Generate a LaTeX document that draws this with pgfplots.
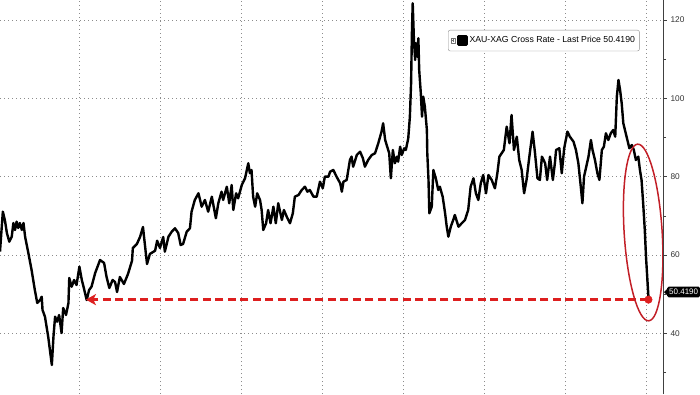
\documentclass[border=0pt]{standalone}
\usepackage{pgfplots}
\pgfplotsset{compat=1.18}
\usepackage{fontspec}
\setmainfont{Liberation Sans}
\usetikzlibrary{arrows.meta,shapes.geometric}
\definecolor{annred}{HTML}{DD1F1F}
\definecolor{ellred}{HTML}{C21F27}
\begin{document}
\begin{tikzpicture}
\useasboundingbox (0,0) rectangle (700pt,394pt);
\begin{axis}[
  at={(0,0)}, anchor=south west,
  scale only axis, width=663pt, height=394pt,
  xmin=2010.05, xmax=2026.42, ymin=24.5, ymax=125.1,
  axis line style={draw=none},
  xtick={2012,2014,...,2026}, xticklabels={},
  xtick style={draw=none},
  ytick={40,60,80,100,120}, minor ytick={30,50,70,90,110},
  ytick pos=right, yticklabel pos=right,
  tick align=outside,
  major tick length=4pt, minor tick length=3pt,
  ytick style={black!75, line width=0.6pt},
  xmajorgrids, ymajorgrids,
  major grid style={black!45, line width=0.7pt, dash pattern=on 0.8pt off 3.2pt},
  yticklabel style={font=\fontsize{8.3}{9}\selectfont, text=black!80},
  /pgf/number format/assume math mode=true,
  legend style={at={(0.6757,0.9239)}, anchor=north west, draw=black!45,
    rounded corners=2pt, font=\fontsize{8.7}{10}\selectfont,
    inner xsep=2.5pt, inner ysep=4.5pt},
  legend image code/.code={
    \draw[sharp corners, black!55, line width=0.35pt] (0pt,-2.2pt) rectangle (4.4pt,2.2pt);
    \draw[sharp corners, black!55, line width=0.35pt] (2.2pt,-1.4pt) -- (2.2pt,1.4pt) (0.8pt,0pt) -- (3.6pt,0pt);
    \fill[sharp corners, black] (7.5pt,-4pt) rectangle (15.5pt,4pt);
  },
]
\addplot[black, line width=2.4pt, line join=round] coordinates {
(2010.05,60.84) (2010.12,71.05) (2010.17,68.93) (2010.22,65.61) (2010.28,63.39)
(2010.34,64.67) (2010.38,68.16) (2010.42,66.38) (2010.46,68.50) (2010.50,66.89)
(2010.54,68.16) (2010.59,66.38) (2010.63,68.16) (2010.67,64.67) (2010.75,60.50)
(2010.83,56.16) (2010.91,51.06) (2010.97,47.74) (2011.04,48.50) (2011.08,49.34)
(2011.10,45.95) (2011.16,44.24) (2011.24,39.13) (2011.33,31.90) (2011.37,39.13)
(2011.41,44.24) (2011.46,42.96) (2011.51,44.67) (2011.57,40.08) (2011.61,46.46)
(2011.68,44.67) (2011.74,47.74) (2011.76,54.12) (2011.82,51.90) (2011.88,53.61)
(2011.94,52.33) (2012.01,57.01) (2012.07,53.61) (2012.12,51.57) (2012.19,48.50)
(2012.25,51.06) (2012.31,51.90) (2012.40,55.40) (2012.52,58.72) (2012.62,57.95)
(2012.68,54.45) (2012.75,51.57) (2012.83,53.61) (2012.89,53.10) (2012.94,50.54)
(2013.01,54.38) (2013.11,52.59) (2013.21,55.14) (2013.31,58.54) (2013.33,61.78)
(2013.43,62.80) (2013.51,64.67) (2013.58,67.14) (2013.68,57.69) (2013.75,60.25)
(2013.88,61.09) (2013.93,63.64) (2014.00,61.78) (2014.08,64.59) (2014.12,60.84)
(2014.21,64.67) (2014.29,65.94) (2014.37,66.81) (2014.45,65.61) (2014.51,62.55)
(2014.57,62.80) (2014.66,65.94) (2014.74,66.81) (2014.78,71.05) (2014.86,74.04)
(2014.95,75.75) (2015.03,72.33) (2015.11,74.04) (2015.19,71.05) (2015.28,74.88)
(2015.38,69.37) (2015.44,73.20) (2015.52,76.16) (2015.56,74.04) (2015.65,77.43)
(2015.71,73.20) (2015.77,77.87) (2015.81,71.48) (2015.88,75.75) (2015.93,74.47)
(2016.02,77.87) (2016.10,79.58) (2016.18,83.41) (2016.22,80.86) (2016.26,81.70)
(2016.30,74.88) (2016.35,72.33) (2016.40,75.75) (2016.47,74.04) (2016.51,71.48)
(2016.55,66.38) (2016.62,68.09) (2016.67,71.48) (2016.73,68.09) (2016.80,72.33)
(2016.86,68.09) (2016.92,73.20) (2017.01,68.93) (2017.06,71.48) (2017.13,69.77)
(2017.21,68.09) (2017.28,70.64) (2017.33,74.88) (2017.42,75.31) (2017.50,76.59)
(2017.58,77.43) (2017.64,76.16) (2017.70,76.59) (2017.79,74.88) (2017.87,74.88)
(2017.95,78.71) (2018.02,77.02) (2018.07,79.99) (2018.16,79.99) (2018.20,81.26)
(2018.28,81.70) (2018.36,79.99) (2018.45,78.30) (2018.49,76.16) (2018.53,78.71)
(2018.61,79.15) (2018.69,84.25) (2018.73,85.10) (2018.77,82.54) (2018.86,85.53)
(2018.94,86.37) (2019.01,84.69) (2019.06,82.54) (2019.14,84.25) (2019.23,85.53)
(2019.31,85.96) (2019.39,88.52) (2019.47,91.48) (2019.51,93.62) (2019.56,89.36)
(2019.61,87.65) (2019.66,85.96) (2019.70,79.58) (2019.75,86.81) (2019.80,83.41)
(2019.85,85.10) (2019.88,83.82) (2019.93,87.65) (2019.97,85.53) (2020.03,87.24)
(2020.07,86.81) (2020.13,89.79) (2020.17,95.31) (2020.20,103.84) (2020.22,116.61)
(2020.24,124.27) (2020.27,114.90) (2020.30,109.79) (2020.32,114.05) (2020.35,110.63)
(2020.38,115.33) (2020.40,107.23) (2020.44,101.28) (2020.47,95.31) (2020.50,100.42)
(2020.54,97.86) (2020.59,91.91) (2020.60,85.96) (2020.63,79.15) (2020.65,70.64)
(2020.71,72.33) (2020.75,81.70) (2020.82,79.15) (2020.87,76.59) (2020.91,77.43)
(2020.98,74.88) (2021.04,70.64) (2021.08,67.22) (2021.12,64.67) (2021.18,67.22)
(2021.24,68.93) (2021.28,70.21) (2021.37,67.22) (2021.45,68.09) (2021.53,68.93)
(2021.61,71.48) (2021.67,77.43) (2021.74,79.58) (2021.80,75.75) (2021.86,74.04)
(2021.92,78.30) (2021.98,80.42) (2022.05,75.75) (2022.11,80.42) (2022.19,79.15)
(2022.27,77.02) (2022.33,80.86) (2022.38,85.10) (2022.49,86.81) (2022.56,92.76)
(2022.63,88.52) (2022.68,95.74) (2022.74,86.81) (2022.81,90.20) (2022.87,84.25)
(2022.93,81.70) (2022.99,75.75) (2023.05,79.15) (2023.12,85.10) (2023.20,91.48)
(2023.26,85.96) (2023.32,79.58) (2023.38,79.15) (2023.43,85.10) (2023.51,83.41)
(2023.56,79.15) (2023.63,85.10) (2023.70,79.15) (2023.75,83.41) (2023.78,86.81)
(2023.86,87.24) (2023.92,80.86) (2023.98,87.24) (2024.06,91.48) (2024.12,90.20)
(2024.21,88.93) (2024.27,86.81) (2024.33,83.41) (2024.39,77.43) (2024.43,73.20)
(2024.47,79.99) (2024.58,85.10) (2024.64,89.36) (2024.68,86.81) (2024.74,84.25)
(2024.80,80.86) (2024.85,79.15) (2024.91,86.81) (2024.96,87.65) (2025.01,91.07)
(2025.07,89.36) (2025.13,91.07) (2025.19,91.91) (2025.24,90.20) (2025.28,100.42)
(2025.32,104.68) (2025.36,102.13) (2025.40,98.73) (2025.44,93.62) (2025.48,91.91)
(2025.54,89.36) (2025.59,87.24) (2025.65,88.08) (2025.70,86.81) (2025.75,84.25)
(2025.81,85.10) (2025.85,81.70) (2025.89,79.15) (2025.93,73.20) (2025.97,66.38)
(2026.00,59.56) (2026.03,54.45) (2026.06,49.30)
};
\addlegendentry{XAU-XAG Cross Rate - Last Price 50.4190}
\addplot[annred, line width=2.8pt, dash pattern=on 8pt off 4.5pt,
  -{Stealth[length=10pt, width=11pt, inset=2.5pt]}, forget plot]
  coordinates {(2026.06,48.6) (2012.17,48.6)};
\addplot[annred, only marks, mark=*, mark size=3.8pt, forget plot]
  coordinates {(2026.06,48.6)};
\node[ellipse, draw=ellred, line width=1.5pt, inner sep=0pt,
  minimum width=38pt, minimum height=177pt, rotate=3.6]
  at (axis cs:2025.93,65.74) {};
\coordinate (lastp) at (axis cs:2026.42,50.54);
\end{axis}
\draw[black!75, line width=0.7pt] (663pt,0pt) -- (663pt,394pt);
\node[fill=black, text=white, font=\fontsize{8}{9}\selectfont, inner xsep=2pt,
  inner ysep=2.5pt, rounded corners=1.5pt, anchor=west] (tag) at ([xshift=4pt]lastp) {50.4190};
\fill[black] ([yshift=3pt]tag.west) -- ++(-3pt,-3pt) -- ++(3pt,-3pt) -- cycle;
\end{tikzpicture}
\end{document}
